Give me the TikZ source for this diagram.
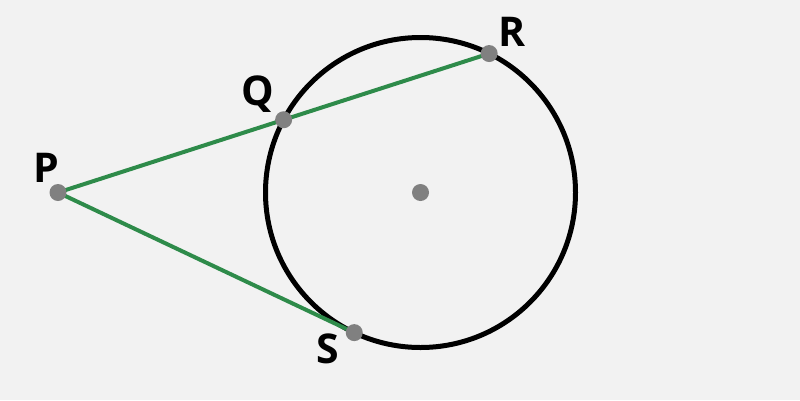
\documentclass[tikz,border=0pt]{standalone}
\usepackage{fontspec}
\setmainfont{Open Sans}
\definecolor{bg}{HTML}{F2F2F2}
\definecolor{segcol}{HTML}{2E8B4A}
\definecolor{dotcol}{HTML}{808080}
\begin{document}
\begin{tikzpicture}[x=1pt,y=-1pt,
  dot/.style={circle,fill=dotcol,inner sep=0pt,minimum size=17pt},
  lbl/.style={anchor=base,inner sep=0pt,font=\fontsize{41}{41}\selectfont\bfseries},
  seg/.style={segcol,line width=4pt},
  rim/.style={black,line width=5pt}]
\fill[bg] (0,0) rectangle (800,400);
\useasboundingbox (0,0) rectangle (800,400);
\coordinate (O) at (420.5,192.5);
\coordinate (Pc) at (58,192.5);
\path (O) ++(152.0:155 and -155) coordinate (Qc);
\path (O) ++(63.7:155 and -155) coordinate (Rc);
\path (O) ++(244.7:155 and -155) coordinate (Sc);
\draw[rim] (O) circle (155);
\draw[seg] (Pc) -- (Rc);
\draw[seg] (Pc) -- (Sc);
\node[dot] (P) at (Pc) {};
\node[dot] (Q) at (Qc) {};
\node[dot] (R) at (Rc) {};
\node[dot] (S) at (Sc) {};
\node[dot] (C) at (O) {};
\node[lbl] (lP) at (46,182) {P};
\node[lbl] (lQ) at (258,105) {Q};
\node[lbl] (lR) at (512,46) {R};
\node[lbl] (lS) at (328,363) {S};
\end{tikzpicture}
\end{document}
